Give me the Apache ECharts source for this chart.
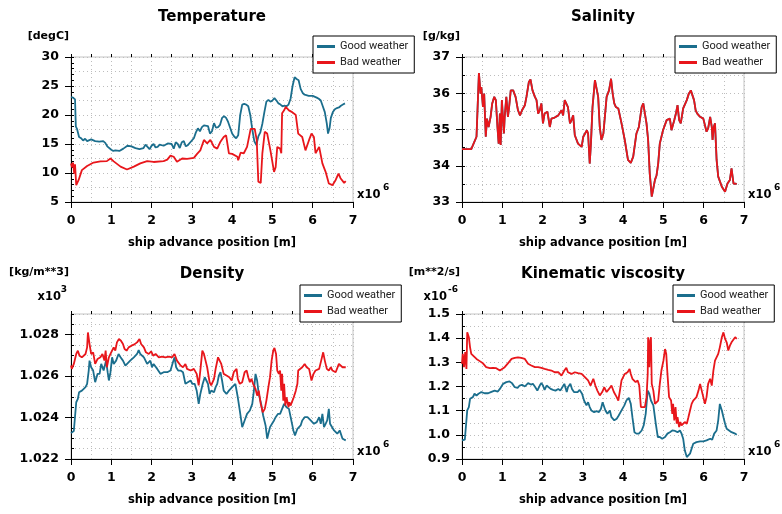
<!DOCTYPE html>
<html><head><meta charset="utf-8">
<script src="https://cdn.jsdelivr.net/npm/echarts@6/dist/echarts.min.js"></script>
<style>html,body{margin:0;padding:0;background:#fff}#c{width:782px;height:514px}</style>
</head><body><div id="c"></div>
<script>
// ---------------- DATA (x in 1e6 m) ----------------
const xTickValues = [0,1,2,3,4,5,6,7];

const tempTicks = [5,10,15,20,25,30];
const tempGood = [[0,23.1],[0.05,23],[0.08,22.8],[0.1,22.7],[0.12,18],[0.15,17.6],[0.2,16.2],[0.25,16],[0.3,15.6],[0.35,15.9],[0.4,15.5],[0.5,15.8],[0.6,15.5],[0.7,15.4],[0.8,15.5],[0.85,15.2],[0.9,14.6],[1.0,14.0],[1.05,13.8],[1.1,13.9],[1.2,13.8],[1.3,14.2],[1.4,14.7],[1.5,14.6],[1.6,14.3],[1.7,14.1],[1.8,14.3],[1.85,14.9],[1.9,14.5],[1.95,14.1],[2.0,14.7],[2.05,15.0],[2.1,14.4],[2.15,14.5],[2.2,14.9],[2.3,14.7],[2.4,15.1],[2.5,15.0],[2.55,14.2],[2.6,15.3],[2.65,15.0],[2.7,14.3],[2.75,15.3],[2.8,15.5],[2.85,14.6],[2.9,14.8],[3.0,15.6],[3.05,16.0],[3.1,17.0],[3.15,17.7],[3.2,17.2],[3.25,17.9],[3.3,18.2],[3.4,18.1],[3.45,16.8],[3.5,17.2],[3.55,18.6],[3.6,17.8],[3.65,17.9],[3.7,18.3],[3.75,19.5],[3.8,19.8],[3.85,19.5],[3.9,18.8],[3.95,17.8],[4.0,16.8],[4.05,16.3],[4.1,16.0],[4.15,16.5],[4.2,20.0],[4.25,21.8],[4.3,21.9],[4.35,21.8],[4.4,21.5],[4.45,20.0],[4.5,17.5],[4.55,15.5],[4.6,14.8],[4.65,16.3],[4.7,17.0],[4.75,18.5],[4.8,20.5],[4.85,22.3],[4.9,22.6],[4.95,22.3],[5.0,22.5],[5.05,22.9],[5.1,22.5],[5.15,22.0],[5.2,21.8],[5.25,21.5],[5.3,21.6],[5.35,21.5],[5.4,21.8],[5.45,22.8],[5.5,25.0],[5.55,26.5],[5.6,26.2],[5.65,26.0],[5.7,24.5],[5.75,23.8],[5.8,23.5],[5.9,23.3],[6.0,23.3],[6.1,23.0],[6.15,22.8],[6.2,22.5],[6.25,21.5],[6.3,20.5],[6.35,18.5],[6.38,16.8],[6.42,17.8],[6.45,19.5],[6.5,20.5],[6.55,21],[6.6,21.2],[6.65,21.3],[6.7,21.6],[6.75,21.8],[6.8,22.0]];
const tempBad = [[0,11.65],[0.025,11.0],[0.05,11.8],[0.08,9.9],[0.1,11.5],[0.12,11.6],[0.13,7.9],[0.19,8.8],[0.27,10.5],[0.4,11.2],[0.56,11.8],[0.73,12.0],[0.89,12.05],[0.98,12.5],[1.06,12.0],[1.23,11.1],[1.39,10.6],[1.56,11.1],[1.72,11.65],[1.89,12.05],[2.05,11.9],[2.3,12.05],[2.39,12.3],[2.47,13.0],[2.55,12.8],[2.63,11.95],[2.76,12.5],[2.88,12.45],[3.05,12.6],[3.13,13.3],[3.21,13.9],[3.3,15.7],[3.38,15.1],[3.46,15.7],[3.55,14.5],[3.63,14.2],[3.71,15.4],[3.79,16.2],[3.85,16.5],[3.92,13.4],[4.0,13.3],[4.13,12.8],[4.15,12.2],[4.21,13.5],[4.29,13.4],[4.37,14.5],[4.46,17.6],[4.56,17.6],[4.61,15.7],[4.65,8.5],[4.71,8.3],[4.75,13.4],[4.81,17.1],[4.87,16.8],[4.95,13.9],[5.04,10.2],[5.08,11.0],[5.12,14.5],[5.19,14.2],[5.22,13.4],[5.24,20.3],[5.29,20.8],[5.33,21.4],[5.41,20.8],[5.49,20.5],[5.58,20.0],[5.64,16.8],[5.74,16.2],[5.82,13.9],[5.91,15.7],[5.97,16.8],[6.03,16.2],[6.07,13.4],[6.16,14.5],[6.2,14.2],[6.24,11.65],[6.32,10.2],[6.4,8.2],[6.49,7.9],[6.57,8.8],[6.64,9.9],[6.69,9.1],[6.78,8.3],[6.82,8.6]];

const salTicks = [33,34,35,36,37];
const salinity = [[0,34.46],[0.23,34.46],[0.36,34.8],[0.4,34.84],[0.42,36.56],[0.46,35.99],[0.48,36.17],[0.52,35.62],[0.55,35.99],[0.59,34.8],[0.62,35.3],[0.66,35.07],[0.71,35.35],[0.75,35.72],[0.8,35.9],[0.84,35.81],[0.88,35.07],[0.91,34.61],[0.94,35.44],[0.96,34.57],[0.99,35.81],[1.04,34.89],[1.06,35.35],[1.1,35.9],[1.14,35.35],[1.17,35.62],[1.21,36.08],[1.27,36.08],[1.33,35.9],[1.39,35.53],[1.44,35.39],[1.49,35.53],[1.56,35.67],[1.6,35.9],[1.66,36.31],[1.7,36.38],[1.75,36.08],[1.81,35.9],[1.85,35.81],[1.89,35.44],[1.93,35.53],[1.97,35.72],[2.01,35.17],[2.05,35.44],[2.12,35.49],[2.18,35.07],[2.22,35.3],[2.3,35.33],[2.39,35.39],[2.47,35.53],[2.51,35.39],[2.55,35.81],[2.59,35.85],[2.63,35.62],[2.68,35.17],[2.72,35.26],[2.76,35.39],[2.8,34.84],[2.84,34.8],[2.88,34.61],[2.97,34.52],[3.01,34.8],[3.05,34.75],[3.1,34.98],[3.13,34.89],[3.17,34.06],[3.2,34.61],[3.24,35.62],[3.3,36.36],[3.34,36.31],[3.38,35.9],[3.42,35.07],[3.46,34.71],[3.51,34.89],[3.59,35.9],[3.65,36.08],[3.7,36.4],[3.74,35.99],[3.78,35.72],[3.82,35.62],[3.88,35.58],[3.96,35.17],[4.04,34.71],[4.12,34.16],[4.19,34.08],[4.25,34.25],[4.33,34.89],[4.39,35.07],[4.46,35.62],[4.5,35.72],[4.54,35.44],[4.58,35.17],[4.62,34.71],[4.66,33.79],[4.71,33.15],[4.75,33.38],[4.79,33.61],[4.83,33.74],[4.87,34.06],[4.91,34.61],[4.99,34.98],[5.08,35.26],[5.16,35.3],[5.2,34.98],[5.27,35.26],[5.31,35.44],[5.35,35.67],[5.39,35.26],[5.43,35.17],[5.49,35.58],[5.58,35.81],[5.63,35.99],[5.68,36.08],[5.72,36.13],[5.76,35.81],[5.8,35.53],[5.84,35.44],[5.91,35.35],[5.99,35.3],[6.07,34.94],[6.11,35.03],[6.16,35.35],[6.2,35.07],[6.22,34.71],[6.25,35.07],[6.28,35.17],[6.32,34.16],[6.36,33.7],[6.45,33.42],[6.53,33.28],[6.59,33.51],[6.65,33.61],[6.69,33.93],[6.74,33.51],[6.82,33.5]];

const densTicks = [1.022,1.024,1.026,1.028];
const densGood = [[0,1.02325],[0.07,1.02335],[0.11,1.02338],[0.13,1.02474],[0.17,1.0249],[0.2,1.02522],[0.27,1.0253],[0.36,1.02547],[0.4,1.02563],[0.44,1.02627],[0.46,1.02675],[0.5,1.02643],[0.55,1.02627],[0.6,1.02571],[0.66,1.02611],[0.71,1.02611],[0.75,1.02659],[0.81,1.02627],[0.87,1.02675],[0.91,1.02619],[0.94,1.02579],[0.98,1.02619],[1.02,1.02691],[1.06,1.02659],[1.12,1.02675],[1.18,1.02707],[1.23,1.02691],[1.29,1.02675],[1.35,1.02651],[1.39,1.02659],[1.47,1.02675],[1.56,1.02691],[1.64,1.02707],[1.68,1.02726],[1.72,1.02707],[1.81,1.02691],[1.89,1.02659],[1.97,1.02675],[2.01,1.02643],[2.05,1.02659],[2.14,1.02635],[2.22,1.02611],[2.3,1.02619],[2.39,1.02619],[2.47,1.02627],[2.53,1.02667],[2.57,1.02691],[2.61,1.02643],[2.66,1.02627],[2.72,1.02627],[2.78,1.02619],[2.84,1.02563],[2.88,1.02571],[2.97,1.02579],[3.01,1.02563],[3.07,1.02563],[3.12,1.0253],[3.17,1.02466],[3.21,1.02514],[3.27,1.02563],[3.32,1.02595],[3.36,1.02579],[3.4,1.02563],[3.44,1.02514],[3.48,1.0253],[3.55,1.02522],[3.59,1.02547],[3.63,1.02563],[3.67,1.02603],[3.71,1.02619],[3.75,1.02579],[3.79,1.0253],[3.86,1.02514],[3.92,1.0253],[4.0,1.02547],[4.08,1.02563],[4.14,1.02498],[4.19,1.02434],[4.25,1.02354],[4.31,1.02386],[4.37,1.02418],[4.44,1.02434],[4.5,1.02466],[4.54,1.0253],[4.58,1.02611],[4.62,1.02579],[4.66,1.02514],[4.72,1.02466],[4.77,1.0241],[4.83,1.02362],[4.87,1.02298],[4.94,1.02354],[4.99,1.0237],[5.04,1.02386],[5.08,1.02402],[5.14,1.02418],[5.19,1.02418],[5.24,1.02442],[5.29,1.02466],[5.35,1.0245],[5.41,1.02442],[5.45,1.02434],[5.52,1.02338],[5.56,1.02314],[5.62,1.02346],[5.7,1.02362],[5.74,1.02386],[5.8,1.02402],[5.87,1.02402],[5.95,1.02386],[6.03,1.0237],[6.1,1.02378],[6.16,1.02402],[6.2,1.0237],[6.24,1.02418],[6.28,1.02354],[6.32,1.0237],[6.36,1.02386],[6.4,1.02442],[6.43,1.0237],[6.47,1.0237],[6.53,1.02338],[6.61,1.02322],[6.67,1.02338],[6.69,1.0233],[6.74,1.02298],[6.82,1.0229]];
const densBad = [[0,1.02651],[0.02,1.02635],[0.07,1.02659],[0.11,1.02651],[0.13,1.02707],[0.17,1.02723],[0.21,1.02699],[0.27,1.02691],[0.36,1.02707],[0.4,1.02739],[0.42,1.02811],[0.46,1.02755],[0.5,1.02707],[0.55,1.02715],[0.6,1.02659],[0.66,1.02683],[0.73,1.02691],[0.78,1.02707],[0.83,1.02675],[0.86,1.02723],[0.89,1.02643],[0.94,1.02691],[0.98,1.02707],[1.02,1.02715],[1.06,1.02739],[1.1,1.02723],[1.14,1.02763],[1.19,1.02779],[1.24,1.02771],[1.29,1.02755],[1.33,1.02731],[1.38,1.02723],[1.43,1.02739],[1.5,1.02747],[1.56,1.02752],[1.64,1.02763],[1.7,1.02779],[1.74,1.02755],[1.81,1.02739],[1.86,1.02715],[1.93,1.02707],[1.99,1.0272],[2.04,1.02699],[2.1,1.02707],[2.18,1.02691],[2.26,1.02694],[2.34,1.02691],[2.43,1.02694],[2.51,1.02691],[2.57,1.02707],[2.63,1.02675],[2.72,1.02651],[2.78,1.02643],[2.84,1.02659],[2.88,1.02635],[2.97,1.02627],[3.05,1.02635],[3.12,1.02611],[3.17,1.02555],[3.21,1.02627],[3.26,1.02723],[3.3,1.02707],[3.34,1.02675],[3.38,1.02643],[3.44,1.02571],[3.48,1.02555],[3.55,1.02587],[3.59,1.02635],[3.65,1.02691],[3.69,1.02699],[3.73,1.02659],[3.79,1.02611],[3.86,1.02603],[3.93,1.02595],[3.99,1.02579],[4.04,1.02619],[4.11,1.02635],[4.14,1.02587],[4.19,1.02563],[4.25,1.02571],[4.31,1.02619],[4.36,1.02627],[4.4,1.02595],[4.44,1.02571],[4.48,1.02587],[4.52,1.02563],[4.58,1.02539],[4.62,1.02506],[4.66,1.0253],[4.71,1.02466],[4.76,1.02426],[4.81,1.02442],[4.85,1.02482],[4.9,1.02547],[4.94,1.02595],[4.98,1.02675],[5.02,1.02723],[5.05,1.02736],[5.09,1.02707],[5.12,1.02627],[5.16,1.02611],[5.19,1.02627],[5.22,1.0253],[5.24,1.02611],[5.27,1.02482],[5.29,1.02563],[5.32,1.02458],[5.35,1.02498],[5.4,1.0245],[5.42,1.02474],[5.45,1.02458],[5.49,1.02466],[5.53,1.02498],[5.58,1.0253],[5.62,1.02563],[5.64,1.02627],[5.68,1.02635],[5.74,1.02643],[5.8,1.02659],[5.85,1.02643],[5.91,1.02635],[5.97,1.02579],[6.02,1.02611],[6.07,1.02627],[6.16,1.02635],[6.21,1.02675],[6.26,1.02715],[6.3,1.02675],[6.35,1.02635],[6.4,1.02627],[6.45,1.02643],[6.49,1.02627],[6.57,1.02619],[6.65,1.02659],[6.69,1.02667],[6.74,1.02643],[6.78,1.02643],[6.82,1.02643]];

const viscTicks = [0.9,1.0,1.1,1.2,1.3,1.4,1.5];
const viscGood = [[0,0.977],[0.07,0.98],[0.11,0.984],[0.13,1.101],[0.17,1.115],[0.2,1.149],[0.27,1.156],[0.31,1.17],[0.36,1.163],[0.41,1.17],[0.48,1.177],[0.56,1.172],[0.65,1.172],[0.73,1.178],[0.81,1.183],[0.89,1.179],[0.94,1.19],[0.98,1.194],[1.02,1.211],[1.1,1.218],[1.18,1.221],[1.24,1.214],[1.31,1.197],[1.38,1.194],[1.43,1.204],[1.49,1.207],[1.56,1.2],[1.64,1.214],[1.71,1.208],[1.76,1.211],[1.82,1.197],[1.87,1.183],[1.93,1.204],[1.97,1.214],[2.01,1.204],[2.05,1.186],[2.1,1.204],[2.14,1.2],[2.2,1.19],[2.26,1.186],[2.32,1.183],[2.39,1.19],[2.44,1.183],[2.49,1.197],[2.54,1.211],[2.57,1.218],[2.6,1.177],[2.63,1.197],[2.69,1.211],[2.73,1.19],[2.78,1.177],[2.82,1.183],[2.87,1.177],[2.92,1.186],[2.98,1.17],[3.03,1.142],[3.09,1.122],[3.13,1.135],[3.17,1.115],[3.21,1.101],[3.28,1.094],[3.34,1.098],[3.4,1.094],[3.45,1.108],[3.49,1.135],[3.53,1.128],[3.56,1.101],[3.61,1.087],[3.67,1.101],[3.71,1.073],[3.78,1.06],[3.84,1.067],[3.89,1.08],[3.96,1.101],[4.03,1.122],[4.08,1.142],[4.14,1.153],[4.19,1.128],[4.23,1.073],[4.28,1.011],[4.33,1.005],[4.39,1.005],[4.46,1.018],[4.51,1.039],[4.56,1.087],[4.61,1.183],[4.65,1.17],[4.69,1.142],[4.75,1.122],[4.81,1.046],[4.86,0.991],[4.91,0.991],[4.97,0.984],[5.04,0.991],[5.1,1.005],[5.16,1.011],[5.22,1.018],[5.29,1.016],[5.35,1.011],[5.41,1.018],[5.45,1.005],[5.49,0.984],[5.53,0.936],[5.58,0.908],[5.62,0.911],[5.66,0.922],[5.7,0.943],[5.74,0.963],[5.82,0.97],[5.91,0.973],[5.99,0.973],[6.07,0.977],[6.16,0.984],[6.21,0.98],[6.26,1.005],[6.32,1.018],[6.36,1.06],[6.4,1.128],[6.45,1.101],[6.49,1.073],[6.53,1.046],[6.57,1.025],[6.61,1.021],[6.69,1.011],[6.78,1.005],[6.82,1.0]];
const viscBad = [[0,1.294],[0.02,1.335],[0.05,1.28],[0.08,1.342],[0.11,1.273],[0.13,1.424],[0.17,1.404],[0.2,1.362],[0.23,1.335],[0.27,1.328],[0.36,1.314],[0.44,1.305],[0.52,1.296],[0.6,1.28],[0.69,1.276],[0.77,1.277],[0.85,1.276],[0.94,1.266],[0.98,1.263],[1.06,1.28],[1.14,1.296],[1.23,1.314],[1.31,1.318],[1.39,1.321],[1.47,1.318],[1.56,1.314],[1.64,1.294],[1.72,1.287],[1.81,1.28],[1.89,1.28],[1.97,1.277],[2.05,1.273],[2.14,1.269],[2.22,1.266],[2.3,1.259],[2.39,1.259],[2.47,1.245],[2.54,1.266],[2.59,1.277],[2.63,1.259],[2.72,1.252],[2.8,1.259],[2.88,1.255],[2.97,1.252],[3.05,1.239],[3.13,1.225],[3.19,1.204],[3.21,1.211],[3.26,1.232],[3.31,1.204],[3.36,1.183],[3.42,1.163],[3.48,1.177],[3.53,1.197],[3.59,1.177],[3.65,1.19],[3.71,1.204],[3.77,1.177],[3.84,1.156],[3.88,1.142],[3.92,1.183],[3.96,1.225],[4.0,1.239],[4.04,1.252],[4.11,1.259],[4.16,1.273],[4.19,1.252],[4.23,1.232],[4.27,1.239],[4.31,1.218],[4.36,1.225],[4.4,1.204],[4.44,1.115],[4.48,1.108],[4.54,1.115],[4.58,1.156],[4.61,1.252],[4.62,1.404],[4.65,1.28],[4.67,1.39],[4.69,1.404],[4.71,1.211],[4.75,1.183],[4.79,1.128],[4.83,1.122],[4.87,1.142],[4.91,1.211],[4.95,1.266],[5.0,1.307],[5.04,1.355],[5.07,1.335],[5.1,1.252],[5.14,1.156],[5.19,1.142],[5.22,1.087],[5.24,1.128],[5.27,1.06],[5.3,1.115],[5.33,1.046],[5.35,1.073],[5.39,1.032],[5.42,1.053],[5.45,1.039],[5.49,1.032],[5.53,1.053],[5.58,1.046],[5.62,1.073],[5.66,1.101],[5.7,1.128],[5.74,1.142],[5.78,1.149],[5.82,1.156],[5.87,1.183],[5.91,1.211],[5.95,1.204],[5.99,1.156],[6.03,1.128],[6.07,1.156],[6.11,1.211],[6.16,1.232],[6.2,1.204],[6.24,1.266],[6.28,1.307],[6.32,1.314],[6.36,1.335],[6.4,1.362],[6.45,1.404],[6.49,1.424],[6.53,1.397],[6.57,1.383],[6.61,1.349],[6.65,1.369],[6.69,1.383],[6.78,1.404],[6.82,1.397]];

const seriesNames = ['Good weather','Bad weather'];

// ---------------- LAYOUT / STYLE ----------------
const COL_GOOD = '#1b6e8d', COL_BAD = '#e8161b';
const FONT = '"DejaVu Sans", sans-serif';
const panels = [
  {title:'Temperature', unit:'[degC]', exp:null, good:tempGood, bad:tempBad, min:5, max:30, minor:1, gstep:2.5, ticks:tempTicks, dec:0, left:71, top:57, legL:313, legT:36},
  {title:'Salinity', unit:'[g/kg]', exp:null, good:salinity, bad:salinity, min:33, max:37, minor:0.5, gstep:0.5, ticks:salTicks, dec:0, left:462, top:57, legL:675, legT:36},
  {title:'Density', unit:'[kg/m**3]', exp:'3', good:densGood, bad:densBad, min:1.022, max:1.029, minor:0.0005, gstep:0.0005, ticks:densTicks, dec:3, left:71, top:314, legL:300, legT:285},
  {title:'Kinematic viscosity', unit:'[m**2/s]', exp:'-6', good:viscGood, bad:viscBad, min:0.9, max:1.5, minor:0.05, gstep:0.05, ticks:viscTicks, dec:1, left:462, top:314, legL:673, legT:285}
];
const GW = 282, GH = 145;

const grid = [], xAxis = [], yAxis = [], series = [], legend = [], graphic = [];
panels.forEach((p, i) => {
  grid.push({left:p.left, top:p.top, width:GW, height:GH, show:true, borderColor:'#c4c4c4', borderWidth:1, backgroundColor:'transparent'});
  const xb = xAxis.length, yb = yAxis.length;
  xAxis.push({type:'value', gridIndex:i, min:0, max:7, interval:1,
    name:'ship advance position [m]', nameLocation:'middle', nameGap:35,
    nameTextStyle:{fontFamily:FONT, fontWeight:'bold', fontSize:11.5, color:'#000'},
    axisLine:{show:true, lineStyle:{color:'#000', width:1}},
    axisTick:{show:true, length:6, lineStyle:{color:'#000'}, customValues:xTickValues},
    axisLabel:{customValues:xTickValues, margin:12, color:'#000', fontFamily:FONT, fontWeight:'bold', fontSize:12.5},
    splitLine:{show:false}});
  xAxis.push({type:'value', gridIndex:i, min:0, max:7, interval:0.5,
    axisLine:{show:false}, axisTick:{show:true, length:3, lineStyle:{color:'#000'}},
    axisLabel:{show:false}, splitLine:{show:true, lineStyle:{color:'#bdbdbd', type:[1,3], width:1}}});
  yAxis.push({type:'value', gridIndex:i, min:p.min, max:p.max,
    axisLine:{show:true, lineStyle:{color:'#000', width:1}},
    axisTick:{show:true, length:6, lineStyle:{color:'#000'}, customValues:p.ticks},
    axisLabel:{customValues:p.ticks, formatter:(v)=>Number(v).toFixed(p.dec), margin:12, color:'#000', fontFamily:FONT, fontWeight:'bold', fontSize:12.5},
    splitLine:{show:false}});
  yAxis.push({type:'value', gridIndex:i, min:p.min, max:p.max, interval:p.minor,
    axisLine:{show:false}, axisTick:{show:true, length:3, lineStyle:{color:'#000'}},
    axisLabel:{show:false}, splitLine:{show:false}});
  yAxis.push({type:'value', gridIndex:i, min:p.min, max:p.max, interval:p.gstep,
    axisLine:{show:false}, axisTick:{show:false}, axisLabel:{show:false},
    splitLine:{show:true, lineStyle:{color:'#bdbdbd', type:[1,3], width:1}}});

  series.push({name:seriesNames[0], type:'line', xAxisIndex:xb, yAxisIndex:yb, data:p.good, showSymbol:false, symbol:'none',
    lineStyle:{color:COL_GOOD, width:1.8}, itemStyle:{color:COL_GOOD}, animation:false, z:3});
  series.push({name:seriesNames[1], type:'line', xAxisIndex:xb, yAxisIndex:yb, data:p.bad, showSymbol:false, symbol:'none',
    lineStyle:{color:COL_BAD, width:1.8}, itemStyle:{color:COL_BAD}, animation:false, z:4});

  legend.push({data:seriesNames, orient:'vertical', left:p.legL, top:p.legT, icon:'rect', itemWidth:18, itemHeight:3, itemGap:5,
    padding:[5,6,5,4], borderColor:'#000', borderWidth:1, backgroundColor:'#fff', selectedMode:false,
    textStyle:{fontFamily:'Roboto, sans-serif', fontSize:11, color:'#222'}});

  const cx = p.left + GW/2;
  graphic.push({type:'text', x:cx, y:p.top-40, style:{text:p.title, font:'bold 15px '+FONT, fill:'#000', align:'center', verticalAlign:'middle'}});
  graphic.push({type:'text', x:p.left-2, y:p.top-(p.exp ? 42 : 21), style:{text:p.unit, font:'bold 11px '+FONT, fill:'#000', align:'right', verticalAlign:'middle'}});
  graphic.push({type:'text', x:p.left+GW+4, y:p.top+GH-7, style:{text:'x10', font:'bold 11.5px '+FONT, fill:'#000', align:'left', verticalAlign:'middle'}});
  graphic.push({type:'text', x:p.left+GW+30, y:p.top+GH-14, style:{text:'6', font:'bold 9px '+FONT, fill:'#000', align:'left', verticalAlign:'middle'}});
  if (p.exp) {
    const ew = p.exp.length > 1 ? 11 : 6;
    graphic.push({type:'text', x:p.left-4-ew, y:p.top-17, style:{text:'x10', font:'bold 11.5px '+FONT, fill:'#000', align:'right', verticalAlign:'middle'}});
    graphic.push({type:'text', x:p.left-4, y:p.top-24, style:{text:p.exp, font:'bold 9px '+FONT, fill:'#000', align:'right', verticalAlign:'middle'}});
  }
});

const chart = echarts.init(document.getElementById('c'), null, {renderer:'canvas'});
chart.setOption({backgroundColor:'#fff', animation:false, grid, xAxis, yAxis, series, legend, graphic});
</script></body></html>
